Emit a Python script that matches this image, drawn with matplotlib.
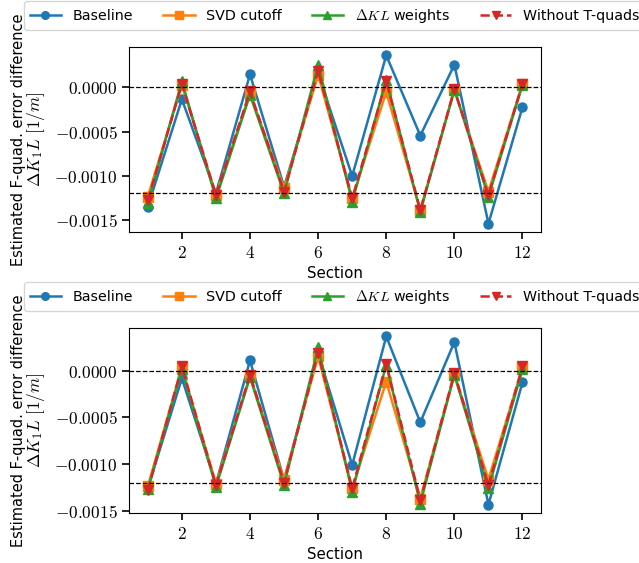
import matplotlib
matplotlib.use('Agg')
import matplotlib.pyplot as plt
from matplotlib.ticker import FuncFormatter
from matplotlib.transforms import blended_transform_factory

plt.rcParams['mathtext.fontset'] = 'cm'
plt.rcParams['font.family'] = ['DejaVu Sans']
plt.rcParams['font.size'] = 10

sections = [1, 2, 3, 4, 5, 6, 7, 8, 9, 10, 11, 12]

# top panel
top_baseline = [-0.001352, -0.000133, -0.00120, 0.000148, -0.001125, 0.00016,
                -0.001004, 0.000364, -0.000545, 0.000258, -0.001542, -0.000223]
top_svd = [-0.001239, 0.00003, -0.00122, -0.000064, -0.001144, 0.000144,
           -0.001258, -0.00005, -0.00139, -0.000027, -0.00118, 0.00004]
top_dkl = [-0.001314, 0.00007, -0.001258, -0.000083, -0.0012, 0.000258,
           -0.001295, 0.000087, -0.00141, -0.000027, -0.001239, 0.00003]
top_not = [-0.001277, 0.00004, -0.00122, -0.000045, -0.00118, 0.00019,
           -0.001258, 0.00007, -0.00139, -0.00002, -0.00122, 0.00004]

# bottom panel
bot_baseline = [-0.00126, -0.00008, -0.00121, 0.000111, -0.00117, 0.00019,
                -0.00101, 0.000369, -0.000552, 0.000308, -0.001434, -0.000122]
bot_svd = [-0.001237, 0.000036, -0.00121, -0.000054, -0.001165, 0.000154,
           -0.00126, -0.000115, -0.00137, -0.000036, -0.001165, 0.000036]
bot_dkl = [-0.001272, 0.000018, -0.001244, -0.000068, -0.001226, 0.000251,
           -0.001297, 0.000065, -0.001423, -0.000043, -0.00126, 0.000018]
bot_not = [-0.00128, 0.000047, -0.001226, -0.000043, -0.0012, 0.00019,
           -0.00126, 0.000072, -0.001387, -0.000025, -0.001226, 0.000047]

ref_lines = [0.0, -0.0012]

fig = plt.figure(figsize=(6.39, 5.63), dpi=100)
ax_top = fig.add_axes([0.202, 0.588, 0.645, 0.3286])
ax_bot = fig.add_axes([0.202, 0.0888, 0.645, 0.3286])


def panel(ax, base, svd, dkl, wot):
    ax.plot(sections, base, '-o', color='#1f77b4', lw=1.8, ms=6.5, label='Baseline')
    ax.plot(sections, svd, '-s', color='#ff7f0e', lw=1.8, ms=6.5, label='SVD cutoff')
    ax.plot(sections, dkl, '-^', color='#2ca02c', lw=1.8, ms=6.5,
            label=r'$\Delta KL$ weights')
    ax.plot(sections, wot, '--v', color='#d62728', lw=1.8, ms=6.5,
            label='Without T-quads')
    for y in ref_lines:
        ax.axhline(y, color='black', ls='--', lw=0.9)
    ax.set_xticks([2, 4, 6, 8, 10, 12])
    ax.xaxis.set_major_formatter(FuncFormatter(lambda v, p: f'${v:.0f}$'))
    ax.yaxis.set_major_formatter(FuncFormatter(lambda v, p: f'${v:.4f}$'))
    ax.set_yticks([0.0, -0.0005, -0.0010, -0.0015])
    ax.tick_params(labelsize=12.5, width=1.2, length=5)
    ax.set_xlabel('Section', labelpad=3, fontsize=10.8)

    # two-line y label: sans first line, math second line
    tr = blended_transform_factory(fig.transFigure, ax.transAxes)
    ax.text(19 / 639, 0.5, 'Estimated F-quad. error difference', transform=tr,
            rotation=90, ha='center', va='center', fontsize=10.5)
    ax.text(36 / 639, 0.5, r'$\Delta K_1 L\ [1/m]$', transform=tr,
            rotation=90, ha='center', va='center', fontsize=12.5)

    ax.legend(loc='lower left', bbox_to_anchor=(-0.255, 1.09), ncol=4,
              borderaxespad=0, handlelength=2.2, columnspacing=2.1,
              markerscale=0.85, fontsize=10.3)


panel(ax_top, top_baseline, top_svd, top_dkl, top_not)
panel(ax_bot, bot_baseline, bot_svd, bot_dkl, bot_not)

fig.savefig('out.png', dpi=100)
